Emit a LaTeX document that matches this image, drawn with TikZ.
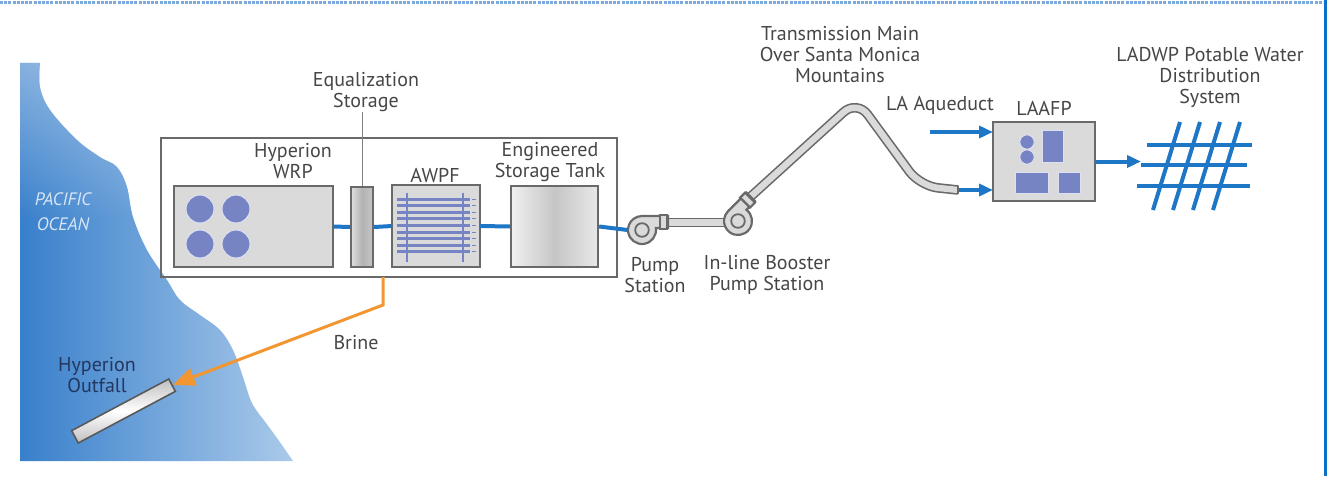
\documentclass[tikz,border=0pt]{standalone}
\usepackage{fontspec}
\setmainfont{PT Sans}
\usetikzlibrary{arrows.meta,calc,fadings}

\definecolor{pipeblue}{RGB}{30,118,198}
\definecolor{unitblue}{RGB}{118,132,196}
\definecolor{boxgray}{RGB}{218,218,218}
\definecolor{edgegray}{RGB}{105,105,105}
\definecolor{txtgray}{RGB}{70,70,70}
\definecolor{brineorange}{RGB}{242,150,50}
\definecolor{oceandark}{RGB}{14,100,192}
\definecolor{oceanlight}{RGB}{232,242,250}
\definecolor{framedot}{RGB}{125,170,222}
\definecolor{frameblue}{RGB}{10,112,200}
\definecolor{outfalltxt}{RGB}{35,55,95}
\definecolor{seatxt}{RGB}{215,230,246}

\begin{document}
\begin{tikzpicture}[x=0.5pt,y=-0.5pt,
  lbl/.style={font=\fontsize{10}{10.5}\selectfont, text=txtgray, align=center, inner sep=0},
  unitbox/.style={draw=edgegray, line width=1.1pt, fill=boxgray, inner sep=0, outer sep=0},
  water/.style={draw=pipeblue, line width=2pt},
  flow/.style={water, -{Triangle[length=7pt,width=6pt]}},
  gridline/.style={draw=pipeblue, line width=2pt},
  unit/.style={fill=unitblue, draw=white!75!unitblue, line width=0.5pt},
  pumpbody/.style={draw=edgegray, line width=1.1pt, fill=boxgray},
  pipe/.style={draw=edgegray, line width=0.8pt, double=boxgray, double distance=3.2pt},
  membrane/.style={draw=unitblue, line width=1.5pt},
]

\useasboundingbox (0,0) rectangle (1331,476);

% page frame
\draw[framedot, line width=1.5pt, dash pattern=on 1.5pt off 0.6pt] (0,2.5) -- (1323,2.5);
\draw[frameblue, line width=1.6pt] (1325.5,0) -- (1325.5,476);

% ocean: horizontal blue gradient, paler towards the top
\begin{scope}
  \clip (20,63) -- plot[smooth, tension=0.6] coordinates {(40,63) (40,87) (50,110) (77,140) (100,157)
   (117,167) (127,187) (133,217) (147,250) (167,280) (180,300) (200,315) (220,330) (233,350)
   (243,377) (252,403) (266,423) (277,438) (293,461)} -- (20,461) -- cycle;
  \shade[left color=oceandark, right color=oceanlight] (-80,60) rectangle (440,465);
  \fill[white, opacity=0.5, path fading=south] (20,20) rectangle (300,220);
\end{scope}
\node[font=\fontsize{9}{12.5}\selectfont\itshape, text=seatxt, align=center, inner sep=0]
  (sea) at (63,212) {PACIFIC\\OCEAN};

% treatment plant site
\node[draw=edgegray, line width=1.1pt, inner sep=0, minimum width=228pt, minimum height=69.5pt]
  (site) at (389,207.5) {};

\node[unitbox, minimum width=79.5pt, minimum height=40.5pt] (wrp) at (253.5,226.5) {};
\foreach \cx/\cy in {200/209, 236/209, 200/244, 236/244}
  \fill[unit] (\cx,\cy) circle[radius=7pt];

\node[draw=edgegray, line width=1.1pt, inner sep=0, minimum width=11pt, minimum height=40pt,
  left color=gray!25, right color=gray!45, middle color=gray!60] (eq) at (362,227) {};

\node[unitbox, minimum width=44pt, minimum height=41pt] (awpf) at (436,226) {};
\foreach \k in {0,...,8} {
  \draw[membrane] (397,199+6.6*\k) -- (470,199+6.6*\k);
  \draw[unitblue, line width=0.5pt] (472,199+6.6*\k) -- (476,199+6.6*\k);
}
\draw[unitblue, line width=1pt] (407,193) -- (407,262);
\draw[unitblue, line width=1pt] (463,193) -- (463,262);

\node[draw=edgegray, line width=1.1pt, inner sep=0, minimum width=43.5pt, minimum height=40.5pt,
  left color=gray!12, right color=gray!18, middle color=gray!45] (tank) at (554.5,226.5) {};

% conveyance pipes and pumps
\draw[pipe] (660,222.5) -- (730,222.5);
\draw[pipe, rounded corners=9pt] (748,199) -- (857,100) -- (920,186) -- (958,190);
\draw[edgegray, line width=0.8pt] (958,186) -- (958,194);

\node[circle, inner sep=0, minimum size=14pt] (pump1) at (642,230) {};
\filldraw[pumpbody] (642,216) -- (668,216) -- (668,228) -- (655.86,228.05)
  arc[start angle=8, end angle=-270, radius=7pt] -- cycle;
\draw[pumpbody] (660,215) rectangle (667,229);
\draw[pumpbody, line width=0.9pt] (pump1) circle[radius=3.4pt];

\node[circle, inner sep=0, minimum size=14pt] (pump2) at (738,221) {};
\begin{scope}[shift={(738,221)}, rotate=45]
  \filldraw[pumpbody] (0,-14) -- (26,-14) -- (26,-2) -- (13.86,-1.95)
    arc[start angle=8, end angle=-270, radius=7pt] -- cycle;
  \draw[pumpbody] (18,-15) rectangle (25,-1);
\end{scope}
\draw[pumpbody, line width=0.9pt] (pump2) circle[radius=3.4pt];

% water flow between units
\draw[water] (wrp.east) -- (eq.west);
\draw[water] (eq.east) -- (awpf.west);
\draw[water] (awpf.east) -- (tank.west);
\draw[water] (tank.east) -- (pump1.west);

% LA Aqueduct Filtration Plant
\node[unitbox, minimum width=51pt, minimum height=39.5pt] (laafp) at (1044,161.5) {};
\fill[unit] (1027,142) circle[radius=3.6pt];
\fill[unit] (1027,157) circle[radius=3.6pt];
\fill[unit] (1042,130) rectangle (1063,162);
\fill[unit] (1015,172) rectangle (1048,193);
\fill[unit] (1058,172) rectangle (1080,193);

\coordinate (aqin) at (930,132);
\coordinate (mainend) at (959,190);
\coordinate (gridin) at (1141,161.5);
\draw[flow] (aqin) -- (aqin -| laafp.west);
\draw[flow] (mainend) -- (mainend -| laafp.west);
\draw[flow] (laafp.east) -- (gridin);

% distribution grid
\draw[gridline] (1147,145) -- (1252,145);
\draw[gridline] (1141,165) -- (1247,165);
\draw[gridline] (1137,186) -- (1250,186);
\foreach \t/\b in {1180/1153, 1200/1173, 1220/1193, 1240/1213}
  \draw[gridline] (\t,122) -- (\b,210);

% brine line to the outfall
\node[draw=gray!70!black, line width=0.8pt, inner sep=0, minimum width=55pt, minimum height=7pt,
  rotate=28, top color=gray!50, bottom color=gray!50, middle color=white] (outfall) at (123.5,411) {};
\coordinate (brine0) at (383,277);
\draw[brineorange, line width=1.5pt, -{Triangle[length=11pt,width=9pt]}]
  (brine0) -- (383,305) -- (outfall.east);

% labels
\node[lbl] (eqlbl) at (366,92) {Equalization\\Storage};
\draw[gray, line width=0.4pt] (eq.north) -- (eq.north |- eqlbl.south);
\node[lbl] at (293,161) {Hyperion\\WRP};
\node[lbl] at (435,175) {AWPF};
\node[lbl] at (550,162) {Engineered\\Storage Tank};
\node[lbl] at (655,275) {Pump\\Station};
\node[lbl] at (767,275) {In-line Booster\\Pump Station};
\node[lbl] at (840,55) {Transmission Main\\Over Santa Monica\\Mountains};
\node[lbl] at (940,105) {LA Aqueduct};
\node[lbl] at (1044,108) {LAAFP};
\node[lbl] at (1210,77) {LADWP Potable Water\\Distribution\\System};
\node[lbl] at (356,343) {Brine};
\node[lbl, text=outfalltxt] at (97,375) {Hyperion\\Outfall};

\end{tikzpicture}
\end{document}
